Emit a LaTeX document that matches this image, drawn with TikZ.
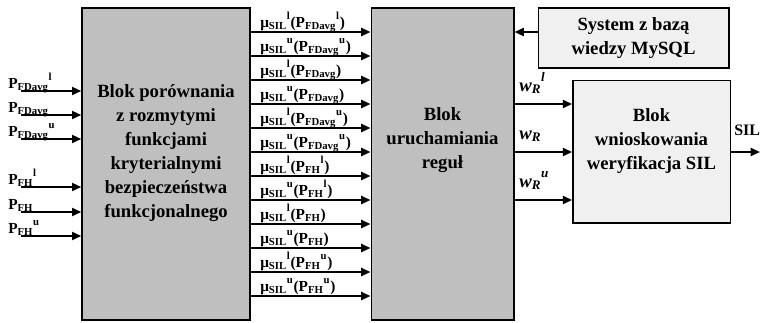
\documentclass[tikz,border=0pt]{standalone}
\usepackage{fontspec}
\setmainfont{Liberation Serif}
\usetikzlibrary{arrows.meta,positioning,calc}
\newcommand{\lo}[1]{\textsubscript{#1}}
\newcommand{\hi}[1]{\raisebox{0.25ex}{\textsuperscript{#1}}}

\begin{document}
\begin{tikzpicture}[x=0.75pt,y=-0.75pt,>={Triangle[length=7pt,width=6pt]},
	blok/.style={draw,line width=1pt,inner sep=0pt},
	btext/.style={font=\fontsize{14}{18}\selectfont\bfseries,align=center},
	lbl/.style={font=\fontsize{11.5}{13}\selectfont\bfseries,inner sep=0pt,anchor=base west},
	sig/.style={->,line width=1.5pt}
	]
	\useasboundingbox (0,0) rectangle (760,322);

	% bloki
	\node[blok,fill=black!25,minimum width=126pt,minimum height=234pt] (porown) at (166,164) {};
	\node[blok,fill=black!25,minimum width=107pt,minimum height=234pt] (uruch) at (442.5,164) {};
	\node[blok,fill=black!6,minimum width=143pt,minimum height=45pt,btext] (baza) at (633.5,38) {System z bazą\\wiedzy MySQL};
	\node[blok,fill=black!6,minimum width=118pt,minimum height=107pt] (wnio) at (651.5,151.5) {};

	\node[btext] (porowntxt) at (166,153) {Blok porównania\\z rozmytymi\\funkcjami\\kryterialnymi\\bezpieczeństwa\\funkcjonalnego};
	\node[btext] (uruchtxt) at (442.5,140) {Blok\\uruchamiania\\reguł};
	\node[btext] (wniotxt) at (651.5,141) {Blok\\wnioskowania\\weryfikacja SIL};

	% wejscia
	\foreach \y/\n/\t in {91/1/{P\lo{FDavg}\hi{l}},115/2/{P\lo{FDavg}},139/3/{P\lo{FDavg}\hi{u}},
		187/4/{P\lo{FH}\hi{l}},212/5/{P\lo{FH}},236/6/{P\lo{FH}\hi{u}}}{
		\coordinate (in\n) at (21,\y);
		\draw[sig] (in\n) -- (in\n -| porown.west);
		\node[lbl] (inl\n) at (8,\y-3) {\t};
	}

	% funkcje przynaleznosci
	\foreach \y/\n/\t in {32/1/{μ\lo{SIL}\hi{l}(P\lo{FDavg}\hi{l})},56/2/{μ\lo{SIL}\hi{u}(P\lo{FDavg}\hi{u})},
		80/3/{μ\lo{SIL}\hi{l}(P\lo{FDavg})},104/4/{μ\lo{SIL}\hi{u}(P\lo{FDavg})},
		128/5/{μ\lo{SIL}\hi{l}(P\lo{FDavg}\hi{u})},152/6/{μ\lo{SIL}\hi{u}(P\lo{FDavg}\hi{u})},
		176/7/{μ\lo{SIL}\hi{l}(P\lo{FH}\hi{l})},200/8/{μ\lo{SIL}\hi{u}(P\lo{FH}\hi{l})},
		224/9/{μ\lo{SIL}\hi{l}(P\lo{FH})},248/10/{μ\lo{SIL}\hi{u}(P\lo{FH})},
		272/11/{μ\lo{SIL}\hi{l}(P\lo{FH}\hi{u})},296/12/{μ\lo{SIL}\hi{u}(P\lo{FH}\hi{u})}}{
		\draw[sig] (porown.east |- 0,\y) -- (uruch.west |- 0,\y);
		\node[lbl] (mu\n) at (260,\y-5) {\t};
	}

	\draw[sig] (baza.west |- 0,32) -- (uruch.east |- 0,32);

	% wagi
	\foreach \y/\n/\t in {104/1/{\textit{w}\lo{\textit{R}}\hi{\textit{l}}},152/2/{\textit{w}\lo{\textit{R}}},200/3/{\textit{w}\lo{\textit{R}}\hi{\textit{u}}}}{
		\draw[sig] (uruch.east |- 0,\y) -- (wnio.west |- 0,\y);
		\node[lbl,font=\fontsize{14}{16}\selectfont\bfseries] (w\n) at (519,\y-13) {\t};
	}

	\coordinate (out) at (760,152);
	\draw[sig] (wnio.east |- out) -- (out);
	\node[lbl,font=\fontsize{12}{14}\selectfont\bfseries] (sil) at (734,135) {SIL};
\end{tikzpicture}
\end{document}
